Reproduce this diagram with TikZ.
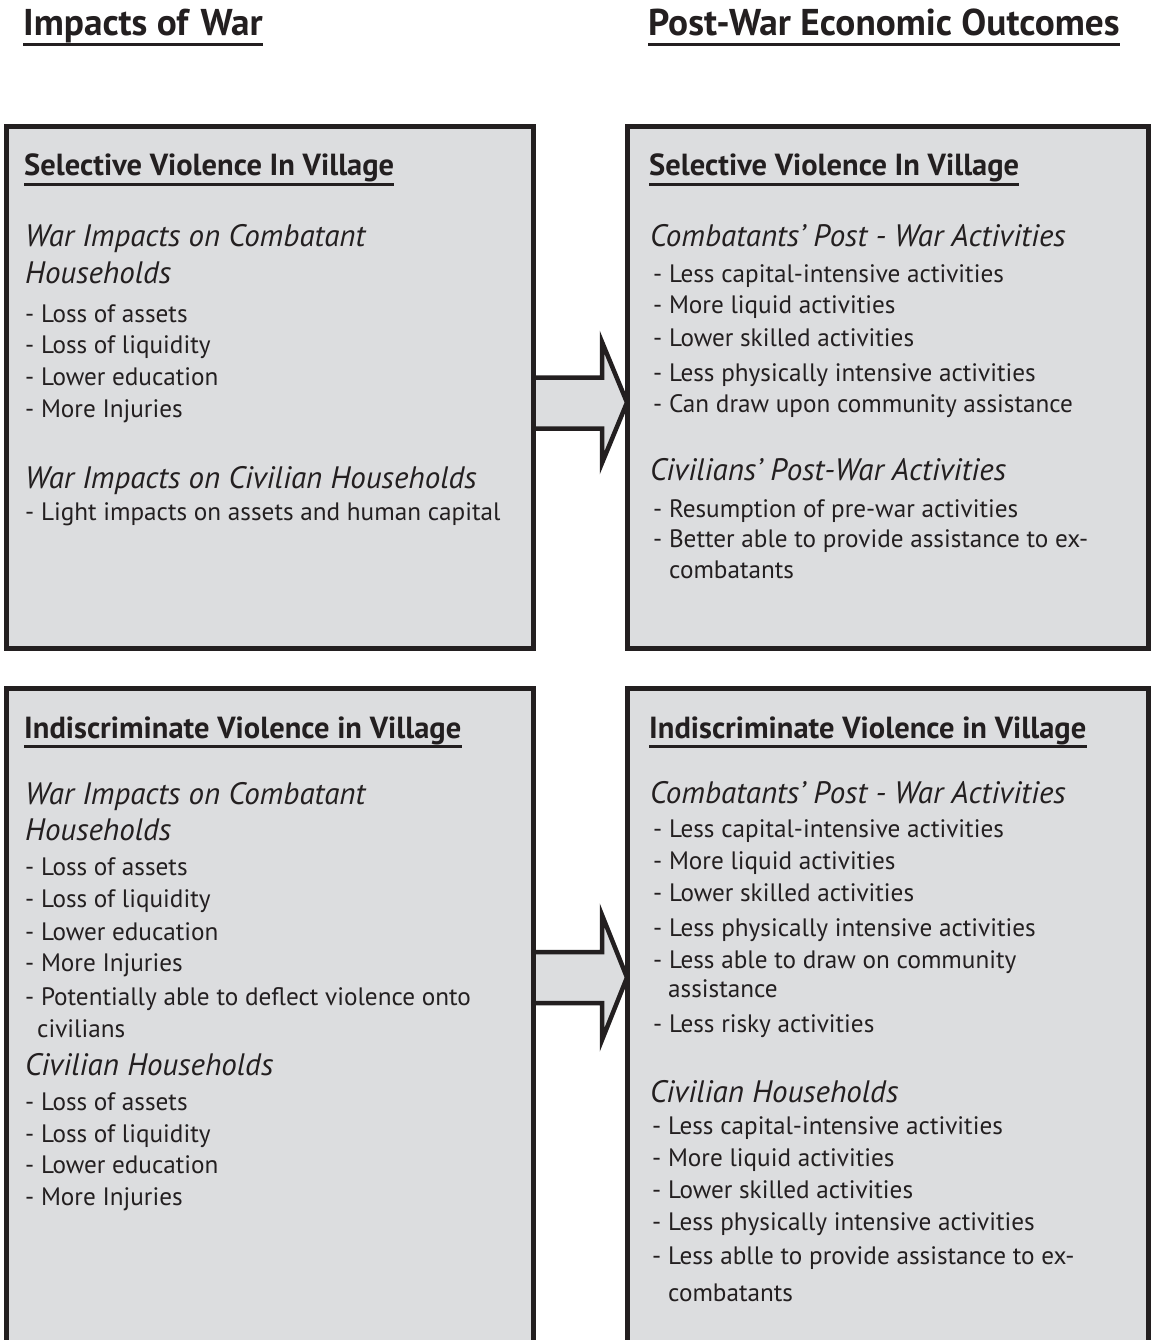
\documentclass[tikz,border=0pt]{standalone}
\usepackage{fontspec}
\setmainfont{PT Sans}
\usepackage{xcolor}
\usetikzlibrary{calc,backgrounds}
\definecolor{ink}{HTML}{231F20}
\definecolor{panelgray}{HTML}{DCDDDF}

\begin{document}
\begin{tikzpicture}[x=1pt, y=-1pt,
    panel/.style={rectangle, draw=ink, line width=5pt, fill=panelgray, inner sep=0pt, outer sep=0pt},
    heading/.style={anchor=base west, inner sep=0pt, text=ink, font=\fontsize{37.3}{40}\selectfont\bfseries},
    title/.style={anchor=base west, inner sep=0pt, text=ink, font=\fontsize{30.5}{34}\selectfont\bfseries},
    sub/.style={anchor=base west, inner sep=0pt, text=ink, font=\fontsize{31}{36}\selectfont\itshape},
    item/.style={anchor=base west, inner sep=0pt, text=ink, font=\fontsize{25.2}{30}\selectfont},
    uline/.style={draw=ink, line width=2.6pt},
    bigarrow/.style={draw=ink, line width=4.5pt, fill=panelgray}
]
    \useasboundingbox (0,0) rectangle (1152,1340);

    % column headings
    \node[heading] (hl) at (23,36) {Impacts of\hspace{0.33em}War};
    \node[heading] (hr) at (648,36) {Post-War Economic Outcomes};
    \draw[uline, line width=3pt] ([yshift=-9pt]hl.base west) -- ([yshift=-9pt]hl.base east);
    \draw[uline, line width=3pt] ([yshift=-9pt]hr.base west) -- ([yshift=-9pt]hr.base east);

    % panels
    \node[panel, minimum width=526.5pt, minimum height=521.5pt] (tl) at (269.75,387.25) {};
    \node[panel, minimum width=521.5pt, minimum height=521.5pt] (tr) at (887.75,387.25) {};
    \node[panel, minimum width=526.5pt, minimum height=674pt] (bl) at (269.75,1025) {};
    \node[panel, minimum width=521.5pt, minimum height=674pt] (br) at (887.75,1025) {};

    % block arrows between the panels
    \begin{scope}[on background layer]
        \draw[bigarrow] (tl.east |- 0,377.5) -- (602,377.5) -- (602,342) -- (tr.west |- 0,402.5)
            -- (602,463) -- (602,428.5) -- (tl.east |- 0,428.5);
        \draw[bigarrow] (bl.east |- 0,952) -- (602,952) -- (602,915) -- (br.west |- 0,977.5)
            -- (602,1040) -- (602,1003) -- (bl.east |- 0,1003);
    \end{scope}

    % selective violence, war impacts
    \node[title] (tlt) at (24,176) {Selective Violence In Village};
    \draw[uline] ([yshift=-8.5pt]tlt.base west) -- ([yshift=-8.5pt]tlt.base east);
    \node[sub] (tls1) at (25,247) {War Impacts on Combatant};
    \node[sub] (tls2) at (25,283) {Households};
    \foreach \y/\t [count=\i] in {322/Loss of assets, 353/Loss of liquidity, 385/Lower education, 417/More Injuries}
        \node[item] (tla\i) at (25,\y) {- \t};
    \node[sub] (tls3) at (25,488) {War Impacts on Civilian Households};
    \node[item] (tlb1) at (25,520) {- Light impacts on assets and human capital};

    % selective violence, outcomes
    \node[title] (trt) at (649,176) {Selective Violence In Village};
    \draw[uline] ([yshift=-8.5pt]trt.base west) -- ([yshift=-8.5pt]trt.base east);
    \node[sub] (trs1) at (650,247) {Combatants’ Post - War Activities};
    \foreach \y/\t [count=\i] in {282/Less capital-intensive activities, 313/More liquid activities,
            346/Lower skilled activities, 381/Less physically intensive activities,
            412/Can draw upon community assistance}
        \node[item] (tra\i) at (653,\y) {- \t};
    \node[sub] (trs2) at (650,480) {Civilians’ Post-War Activities};
    \node[item] (trb1) at (653,517) {- Resumption of pre-war activities};
    \node[item] (trb2) at (653,547) {- Better able to provide assistance to ex-};
    \node[item] (trb3) at (669,578) {combatants};

    % indiscriminate violence, war impacts
    \node[title] (blt) at (24,738) {Indiscriminate Violence in Village};
    \draw[uline] ([yshift=-8.5pt]blt.base west) -- ([yshift=-8.5pt]blt.base east);
    \node[sub] (bls1) at (25,804) {War Impacts on Combatant};
    \node[sub] (bls2) at (25,840) {Households};
    \foreach \y/\t [count=\i] in {875/Loss of assets, 907/Loss of liquidity, 940/Lower education,
            971/More Injuries, 1005/Potentially able to deflect violence onto}
        \node[item] (bla\i) at (25,\y) {- \t};
    \node[item] (bla6) at (37,1037) {civilians};
    \node[sub] (bls3) at (25,1075) {Civilian Households};
    \foreach \y/\t [count=\i] in {1110/Loss of assets, 1142/Loss of liquidity, 1173/Lower education, 1205/More Injuries}
        \node[item] (blb\i) at (25,\y) {- \t};

    % indiscriminate violence, outcomes
    \node[title] (brt) at (649,738) {Indiscriminate Violence in Village};
    \draw[uline] ([yshift=-8.5pt]brt.base west) -- ([yshift=-8.5pt]brt.base east);
    \node[sub] (brs1) at (650,803) {Combatants’ Post - War Activities};
    \foreach \y/\t [count=\i] in {837/Less capital-intensive activities, 869/More liquid activities,
            901/Lower skilled activities, 936/Less physically intensive activities,
            968/Less able to draw on community}
        \node[item] (bra\i) at (653,\y) {- \t};
    \node[item] (bra6) at (668,997) {assistance};
    \node[item] (bra7) at (653,1032) {- Less risky activities};
    \node[sub] (brs2) at (650,1102) {Civilian Households};
    \foreach \y/\t [count=\i] in {1134/Less capital-intensive activities, 1166/More liquid activities,
            1198/Lower skilled activities, 1230/Less physically intensive activities,
            1264/Less ablle to provide assistance to ex-}
        \node[item] (brb\i) at (652,\y) {- \t};
    \node[item] (brb6) at (668,1301) {combatants};
\end{tikzpicture}
\end{document}
